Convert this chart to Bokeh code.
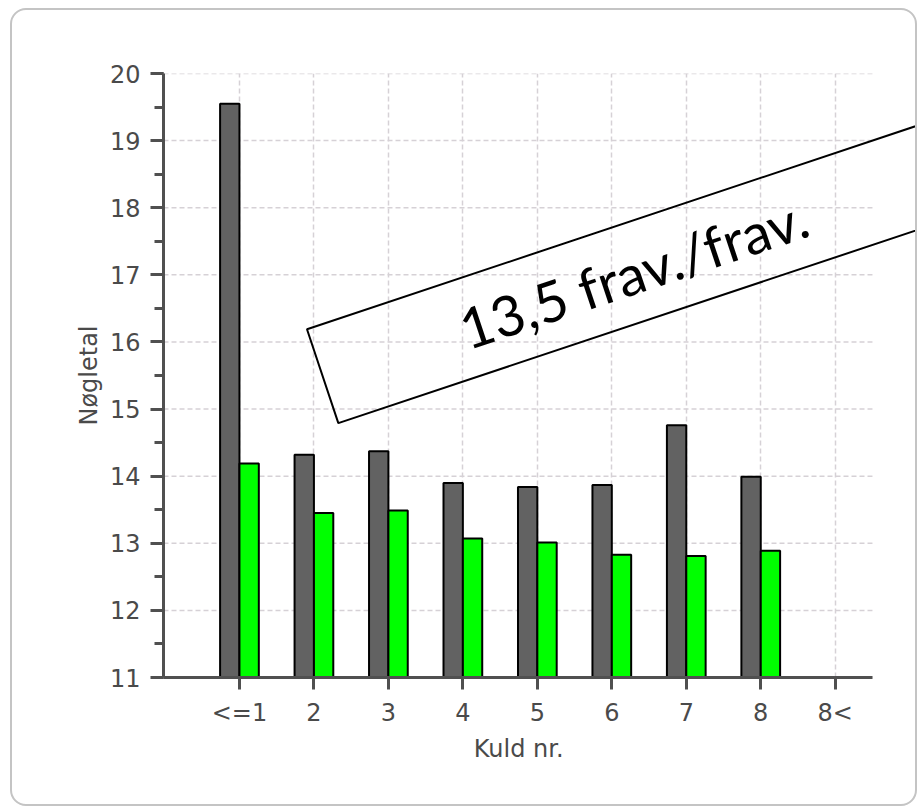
import math
from bokeh.plotting import figure
from bokeh.models import (FixedTicker, SingleIntervalTicker, Range1d, Label,
                          ColumnDataSource)
from bokeh.transform import dodge
from bokeh.embed import file_html
from bokeh.resources import INLINE

# ---------------- data ----------------
categories = ["<=1", "2", "3", "4", "5", "6", "7", "8", "8<"]
dark_values = [19.55, 14.32, 14.37, 13.90, 13.84, 13.87, 14.76, 13.99, 0]
green_values = [14.19, 13.45, 13.49, 13.07, 13.01, 12.83, 12.81, 12.89, 0]
y_ticks = list(range(11, 21))
x_label = "Kuld nr."
y_label = "Nøgletal"
note_text = "13,5 frav./frav."

# ---------------- layout constants (canvas px) ----------------
W, H = 907, 798
ML, MR, MT, MB = 151, 0, 63, 131
X0, X_AXIS_END = -0.02, 9.5          # visible axis extent
PX_PER_X = 74.47                      # horizontal scale of the reference
FW, FH = W - ML - MR, H - MT - MB
X1 = X0 + FW / PX_PER_X               # frame extends to the right edge (for the note box)
Y0, Y1 = y_ticks[0], y_ticks[-1]


def cx(px):
    return X0 + (px - ML) / FW * (X1 - X0)


def cy(py):
    return Y1 - (py - MT) / FH * (Y1 - Y0)


positions = list(range(1, len(categories) + 1))
src = ColumnDataSource(dict(pos=positions, dark=dark_values, green=green_values,
                            cat=categories))

p = figure(width=W, height=H, output_backend="svg", toolbar_location=None,
           x_range=Range1d(X0, X1), y_range=Range1d(Y0, Y1),
           min_border_left=ML, min_border_right=MR, min_border_top=MT,
           min_border_bottom=MB)
p.outline_line_color = None
p.background_fill_color = "white"
p.border_fill_color = None
p.styles = {"margin-left": "10px", "margin-top": "8px",
            "border": "2px solid #c4c4c4", "border-radius": "16px"}

grid_color = "#d6d1d6"
# horizontal grid lines, limited to the axis extent
p.segment(x0=X0, x1=X_AXIS_END, y0=y_ticks, y1=y_ticks, line_color=grid_color,
          line_dash="5 3", line_width=1.5, level="underlay")

BAR_W = 0.26
p.vbar(x=dodge("pos", -BAR_W / 2), top="dark", bottom=Y0, width=BAR_W, source=src,
       fill_color="#626262", line_color="black", line_width=2)
p.vbar(x=dodge("pos", BAR_W / 2), top="green", bottom=Y0, width=BAR_W, source=src,
       fill_color="#00ff00", line_color="black", line_width=2)

label_color = "#4a4a4a"
axis_color = "#505050"
font = "DejaVu Sans"
tick_fs = "24px"
lab_fs = "24px"

# x axis
xa = p.xaxis[0]
xa.bounds = (X0, X_AXIS_END)
xa.ticker = FixedTicker(ticks=positions)
xa.major_label_overrides = {pp: c for pp, c in zip(positions, categories)}
xa.axis_line_color = axis_color
xa.axis_line_width = 3
xa.major_tick_line_color = axis_color
xa.major_tick_line_width = 3
xa.major_tick_in = 0
xa.major_tick_out = 12
xa.minor_tick_line_color = None
xa.major_label_text_font = font
xa.major_label_text_font_size = tick_fs
xa.major_label_text_color = label_color
xa.major_label_standoff = 9
# the axis label is centred on the (wider) frame; trailing no-break spaces
# move it back to the centre of the visible axis
xa.axis_label = x_label + "\u00a0" * 6
xa.axis_label_text_font = font
xa.axis_label_text_font_size = lab_fs
xa.axis_label_text_font_style = "normal"
xa.axis_label_text_color = label_color
xa.axis_label_standoff = 5

# y axis
ya = p.yaxis[0]
ya.ticker = SingleIntervalTicker(interval=1, num_minor_ticks=2)
ya.axis_line_color = axis_color
ya.axis_line_width = 3
ya.major_tick_line_color = axis_color
ya.major_tick_line_width = 3
ya.major_tick_in = 0
ya.major_tick_out = 13
ya.minor_tick_line_color = axis_color
ya.minor_tick_line_width = 3
ya.minor_tick_in = 0
ya.minor_tick_out = 9
ya.major_label_text_font = font
ya.major_label_text_font_size = tick_fs
ya.major_label_text_color = label_color
ya.major_label_standoff = 10
ya.axis_label = y_label
ya.axis_label_text_font = font
ya.axis_label_text_font_size = lab_fs
ya.axis_label_text_font_style = "normal"
ya.axis_label_text_color = label_color
ya.axis_label_standoff = 4

# grids
p.ygrid.grid_line_color = None
p.xgrid.ticker = FixedTicker(ticks=positions)
p.xgrid.grid_line_color = grid_color
p.xgrid.grid_line_dash = "5 3"
p.xgrid.grid_line_width = 1.5

# rotated note with its frame
tcx, tcy = 621.0, 262.0
p.add_layout(Label(x=cx(tcx), y=cy(tcy), text=note_text, angle=18.45, angle_units="deg",
                   text_font="Lato", text_font_size="56px", text_color="black",
                   text_align="center", text_baseline="middle",
                   border_line_color="black", border_line_width=2,
                   background_fill_color=None,
                   padding=dict(left=146, right=146, top=16, bottom=16)))

open("out.html", "w").write(file_html(p, INLINE))
